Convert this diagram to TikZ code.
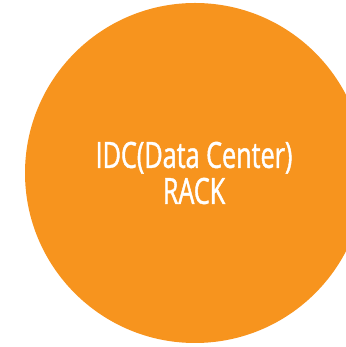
\documentclass[tikz,border=0pt]{standalone}
\usepackage{fontspec}
\newfontfamily\condfont[FakeStretch=0.70, FakeBold=1.2]{Open Sans}
\definecolor{rackorange}{RGB}{247,148,30}

\begin{document}
\begin{tikzpicture}[x=1pt, y=1pt]
    \useasboundingbox (0, 0) rectangle (345, 347);
    % 円
    \node[circle, fill=rackorange, minimum size=340pt, inner sep=0pt] (rack) at (195, 174) {};
    % ラベル
    \node[text=white, align=center, font=\condfont\fontsize{36}{36}\selectfont] (label) at (194, 174) {IDC(Data Center)\\RACK};
\end{tikzpicture}
\end{document}
